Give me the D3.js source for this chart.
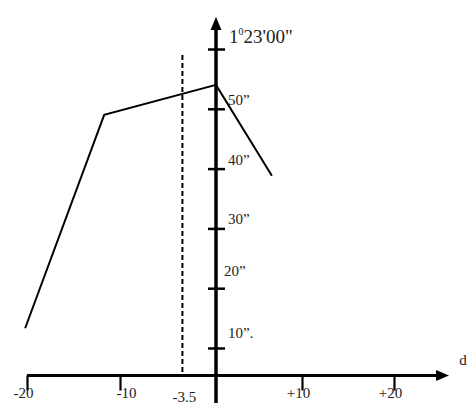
<!DOCTYPE html>
<html>
<head>
<meta charset="utf-8">
<script src="https://cdn.jsdelivr.net/npm/d3@7"></script>
<style>
  html, body { margin: 0; padding: 0; background: #fff; }
  svg { display: block; }
  text { font-family: "Liberation Serif", "DejaVu Serif", serif; fill: #222; }
</style>
</head>
<body>
<svg id="chart" width="475" height="412"></svg>
<script>
// ---- data ----
const xTicks = [-20, -10, 10, 20];
const xTickLabels = ["-20", "-10", "+10", "+20"];
const yTicks = [10, 20, 30, 40, 50, 60];
const yTickLabels = ["10\u201D.", "20\u201D", "30\u201D", "40\u201D", "50\u201D", "23'00\""];
const lineD = [-20.2, -11.7, 0, 6.5];        // d
const lineSec = [13.3, 49.0, 54.0, 38.8];    // seconds
const dashedAt = -3.5;
const dashedLabel = "-3.5";
const xAxisLabel = "d";
const xAxisSec = 5.4; // value of y where horizontal axis sits

const SERIF = "Liberation Serif, DejaVu Serif, serif";

// ---- scales ----
const svg = d3.select("#chart");
const x = d3.scaleLinear().domain([-20, -10, 0, 10, 20]).range([27, 120, 216, 302, 394]);
const y = d3.scaleLinear().domain([10, 60]).range([348, 49]);
const x0 = x(0);
const yA = y(xAxisSec);

// ---- horizontal axis ----
svg.append("line").attr("x1", x(-20)).attr("x2", 440).attr("y1", yA).attr("y2", yA)
  .attr("stroke", "#000").attr("stroke-width", 3);
svg.append("path").attr("d", d3.line()([[436, yA - 5.5], [449, yA], [436, yA + 5.5]]) + "Z").attr("fill", "#000");

const gx = svg.append("g").attr("transform", `translate(0,${yA})`)
  .call(d3.axisBottom(x).tickValues(xTicks).tickSize(15).tickFormat((d, i) => xTickLabels[i]));
gx.select(".domain").remove();
gx.attr("font-family", SERIF);
gx.selectAll(".tick line").attr("stroke", "#000").attr("stroke-width", 2.2);
gx.selectAll(".tick text").attr("font-size", 15).attr("y", 22).attr("dy", 0)
  .attr("x", (d) => d === -20 ? -4 : (d === -10 ? 6 : -4))
  .attr("font-family", SERIF).attr("fill", "#222");

svg.append("text").attr("x", 463).attr("y", 365).attr("font-size", 15).attr("font-family", SERIF)
  .attr("text-anchor", "middle").text(xAxisLabel);

// ---- vertical axis ----
svg.append("line").attr("x1", x0).attr("x2", x0).attr("y1", 26).attr("y2", 403)
  .attr("stroke", "#000").attr("stroke-width", 3.5);
svg.append("path").attr("d", d3.line()([[210.5, 30], [x0, 17], [221.5, 30]]) + "Z").attr("fill", "#000");

const gy = svg.append("g").attr("transform", `translate(${x0},0)`)
  .call(d3.axisRight(y).tickValues(yTicks).tickSize(9).tickFormat(""));
gy.select(".domain").remove();
gy.selectAll(".tick line").attr("x1", -8).attr("stroke", "#000").attr("stroke-width", 2.5);

yTicks.forEach((v, i) => {
  if (v === 60) {
    const t = svg.append("text").attr("x", 229).attr("y", 43).attr("font-size", 19).attr("font-family", SERIF);
    t.append("tspan").text("1");
    t.append("tspan").attr("font-size", 10).attr("dy", -8).text("0");
    t.append("tspan").attr("dy", 8).text(yTickLabels[i]);
  } else {
    const off = v === 20 ? 12 : (v === 10 ? 10 : 4);
    svg.append("text").attr("x", v === 20 ? 224 : 228).attr("y", y(v) - off)
      .attr("font-size", 15).attr("font-family", SERIF).text(yTickLabels[i]);
  }
});

// ---- dashed line ----
svg.append("line").attr("x1", x(dashedAt)).attr("x2", x(dashedAt)).attr("y1", 55).attr("y2", yA)
  .attr("stroke", "#000").attr("stroke-width", 2).attr("stroke-dasharray", "5,3");
svg.append("text").attr("x", x(dashedAt) + 2).attr("y", 402).attr("font-size", 15).attr("font-family", SERIF)
  .attr("text-anchor", "middle").text(dashedLabel);

// ---- data line ----
const pts = lineD.map((d, i) => [x(d), y(lineSec[i])]);
svg.append("path").attr("d", d3.line()(pts)).attr("fill", "none")
  .attr("stroke", "#000").attr("stroke-width", 2);
</script>
</body>
</html>
